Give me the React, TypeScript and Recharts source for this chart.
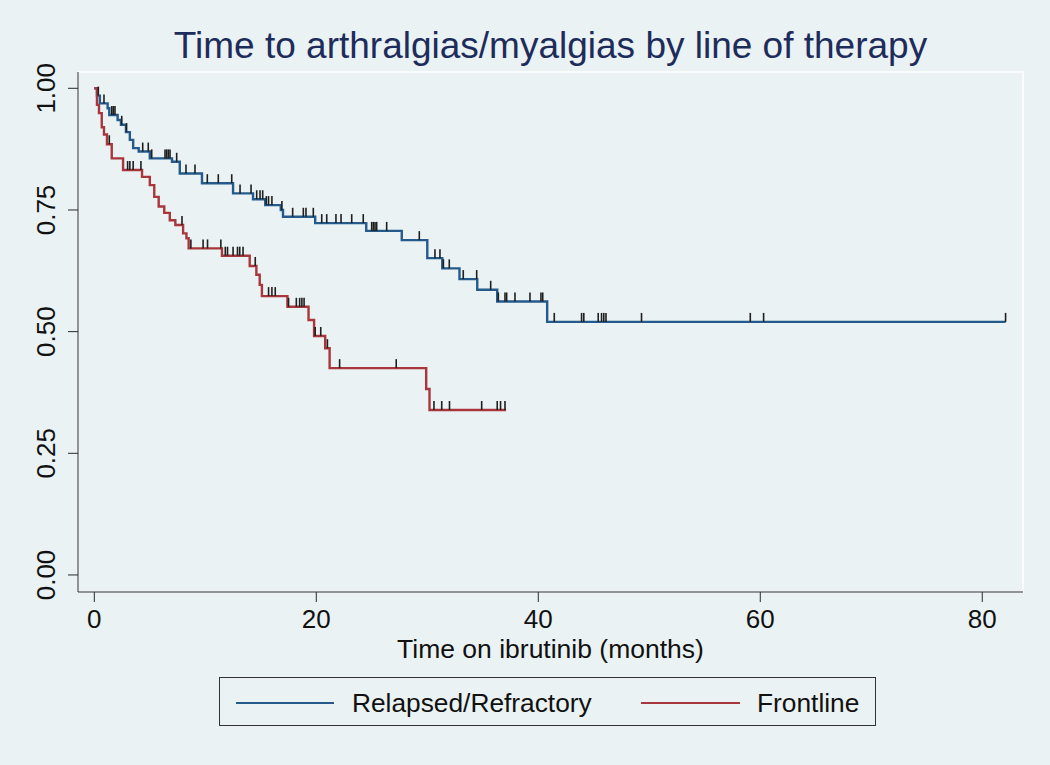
import React from 'react';
import { ComposedChart, Line, Scatter, XAxis, YAxis, ReferenceArea } from 'recharts';

// Kaplan-Meier steps: time of each drop (months) and new survival level
const rrTime = [0, 0.24, 0.5, 1.2, 1.35, 2.1, 2.4, 2.85, 3.2, 3.5, 4.0, 5.0, 7.0, 7.7, 9.7, 12.5, 14.3, 15.4, 16.8, 17.0, 19.9, 24.5, 27.7, 30.0, 31.35, 32.9, 34.5, 36.3, 40.8, 82.1];
const rrSurv = [1, 0.985, 0.969, 0.959, 0.945, 0.935, 0.925, 0.91, 0.894, 0.877, 0.87, 0.856, 0.849, 0.825, 0.805, 0.784, 0.772, 0.76, 0.75, 0.736, 0.723, 0.707, 0.688, 0.651, 0.63, 0.608, 0.586, 0.562, 0.52, 0.52];
const rrCensor = [0.36, 0.87, 1.57, 1.71, 1.86, 2.47, 2.9, 4.36, 4.86, 5.17, 6.37, 6.52, 6.67, 6.82, 7.42, 8.26, 9.07, 10.18, 11.17, 12.38, 13.13, 14.12, 14.63, 14.93, 15.17, 15.5, 15.7, 16.0, 16.9, 17.87, 18.83, 19.07, 19.73, 20.49, 20.94, 21.77, 22.23, 23.19, 24.23, 24.99, 25.14, 25.29, 25.44, 26.34, 29.28, 30.69, 31.14, 31.45, 31.98, 33.24, 34.45, 35.71, 36.4, 37.0, 37.15, 37.9, 39.25, 40.24, 40.4, 41.44, 43.9, 44.1, 45.4, 45.7, 45.9, 46.1, 49.3, 59.1, 60.3, 82.1];

const flTime = [0, 0.24, 0.42, 0.67, 0.87, 1.14, 1.57, 2.59, 4.3, 5.0, 5.4, 5.8, 6.3, 6.8, 7.3, 8.0, 8.3, 8.5, 11.5, 14.0, 14.6, 14.9, 15.1, 17.4, 19.3, 19.8, 20.8, 21.2, 29.9, 30.2, 37.1];
const flSurv = [1, 0.966, 0.949, 0.92, 0.905, 0.885, 0.856, 0.832, 0.818, 0.801, 0.777, 0.757, 0.744, 0.729, 0.719, 0.702, 0.692, 0.671, 0.656, 0.635, 0.617, 0.596, 0.573, 0.551, 0.524, 0.491, 0.466, 0.425, 0.382, 0.339, 0.339];
const flCensor = [1.35, 3.0, 3.2, 3.5, 4.2, 7.9, 8.7, 9.8, 10.2, 11.4, 11.8, 12.0, 12.5, 12.9, 13.1, 13.4, 14.5, 15.7, 16.0, 16.3, 17.5, 18.2, 18.5, 18.7, 18.9, 19.9, 20.4, 21.0, 22.1, 27.2, 30.6, 31.3, 32.0, 34.9, 36.3, 36.6, 37.0];

const xTicks = [0, 20, 40, 60, 80];
const yTicks = [0, 0.25, 0.5, 0.75, 1];

const FONT = '"Liberation Sans", Arial, Helvetica, sans-serif';
const BG = '#EAF2F3';
const BLUE = '#245A8C';
const RED = '#AA363D';

const toSteps = (time: number[], surv: number[]) => time.map((t, i) => ({ t, s: surv[i] }));

// survival level in force at time t (step function lookup)
const survAt = (time: number[], surv: number[], t: number) => {
    let s = surv[0];
    for (let i = 0; i < time.length; i++) if (time[i] <= t) s = surv[i];
    return s;
};
const toCensor = (cens: number[], time: number[], surv: number[]) =>
    cens.map((t) => ({ t, s: survAt(time, surv, t) }));

const rrSteps = toSteps(rrTime, rrSurv);
const flSteps = toSteps(flTime, flSurv);
const rrMarks = toCensor(rrCensor, rrTime, rrSurv);
const flMarks = toCensor(flCensor, flTime, flSurv);

const CensorMark = (props: any) => (
    <line x1={props.cx} x2={props.cx} y1={props.cy} y2={props.cy - 9} stroke="#1f1f1f" strokeWidth={1.6} />
);

const YTick = (props: any) => {
    const { x, y, payload } = props;
    const bx = x - 11;
    return (
        <text
            x={bx}
            y={y}
            transform={`rotate(-90, ${bx}, ${y})`}
            textAnchor="middle"
            fontSize={26}
            fontFamily={FONT}
            fill="#111"
        >
            {payload.value.toFixed(2)}
        </text>
    );
};

export default function App() {
    return (
        <div style={{ position: 'absolute', left: 0, top: 0, width: 1050, height: 765, background: BG, fontFamily: FONT }}>
            <div style={{ position: 'absolute', left: 78, top: 27, width: 945, textAlign: 'center', fontSize: 37, lineHeight: '37px', color: '#1E2C5C' }}>
                Time to arthralgias/myalgias by line of therapy
            </div>
            <ComposedChart width={1050} height={765} margin={{ top: 72, right: 27, bottom: 133, left: 8 }}>
                <ReferenceArea x1={-1.47} x2={83.67} y1={-0.035} y2={1.0335} fill="none" stroke="#ffffff" strokeWidth={1.5} ifOverflow="visible" />
                <XAxis
                    type="number"
                    dataKey="t"
                    domain={[-1.47, 83.67]}
                    ticks={xTicks}
                    interval={0}
                    allowDataOverflow
                    height={40}
                    tickSize={10}
                    tickMargin={8}
                    stroke="#2a2a2a"
                    tick={{ fill: '#111', fontSize: 26, fontFamily: FONT }}
                />
                <YAxis
                    type="number"
                    dataKey="s"
                    domain={[-0.035, 1.0335]}
                    ticks={yTicks}
                    interval={0}
                    allowDataOverflow
                    width={70}
                    tickSize={10}
                    stroke="#2a2a2a"
                    tick={<YTick />}
                />
                <Line data={rrSteps} dataKey="s" type="stepAfter" stroke={BLUE} strokeWidth={2.4} dot={false} isAnimationActive={false} />
                <Line data={flSteps} dataKey="s" type="stepAfter" stroke={RED} strokeWidth={2.4} dot={false} isAnimationActive={false} />
                <Scatter data={rrMarks} dataKey="s" shape={CensorMark} isAnimationActive={false} />
                <Scatter data={flMarks} dataKey="s" shape={CensorMark} isAnimationActive={false} />
            </ComposedChart>
            <div style={{ position: 'absolute', left: 78, top: 636, width: 945, textAlign: 'center', fontSize: 26.5, lineHeight: '26.5px', color: '#111' }}>
                Time on ibrutinib (months)
            </div>
            <div style={{ position: 'absolute', left: 219, top: 677, width: 657, height: 49, border: '1px solid #333', boxSizing: 'border-box' }}>
                <div style={{ position: 'absolute', left: 16, top: 24, width: 98, height: 2.4, background: BLUE }} />
                <div style={{ position: 'absolute', left: 132, top: 12, fontSize: 26.3, lineHeight: '26.3px', color: '#111' }}>Relapsed/Refractory</div>
                <div style={{ position: 'absolute', left: 421, top: 24, width: 99, height: 2.4, background: RED }} />
                <div style={{ position: 'absolute', left: 537, top: 12, fontSize: 26.3, lineHeight: '26.3px', color: '#111' }}>Frontline</div>
            </div>
        </div>
    );
}
